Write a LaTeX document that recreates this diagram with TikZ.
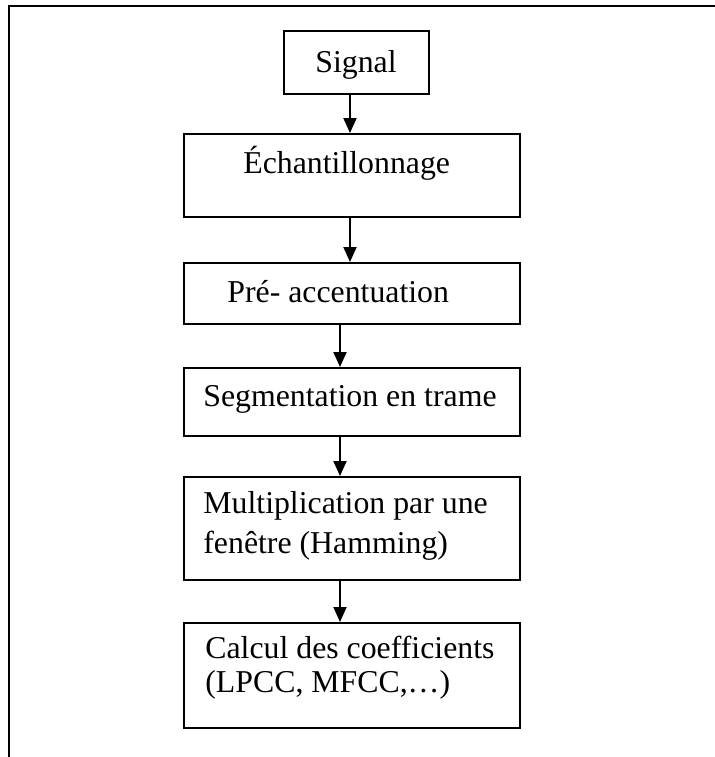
\documentclass[tikz,border=0pt]{standalone}
\usepackage{fontspec}
\setmainfont{Liberation Serif}
\usetikzlibrary{arrows.meta}
\begin{document}
\begin{tikzpicture}[x=0.5pt,y=-0.5pt,
  stage/.style={draw, line width=1pt, inner sep=0pt, anchor=north west},
  caption/.style={anchor=base west, inner sep=0pt, font=\fontsize{15.9}{19.5}\selectfont},
  flow/.style={line width=1pt, -{Triangle[width=6.5pt,length=7.5pt]}}]
  \useasboundingbox (0,0) rectangle (715,757);
  % open frame: top and left edges only
  \draw[line width=1pt] (715,6) -- (9,6) -- (9,757);

  % processing stages
  \node[stage, minimum width=72.5pt, minimum height=31.5pt] (sig) at (283,30) {};
  \node[stage, minimum width=168pt, minimum height=41.5pt] (ech) at (183,133) {};
  \node[stage, minimum width=168pt, minimum height=30.5pt] (pre) at (183,262) {};
  \node[stage, minimum width=168pt, minimum height=34pt] (seg) at (183,367) {};
  \node[stage, minimum width=168pt, minimum height=51.5pt] (mul) at (183,476) {};
  \node[stage, minimum width=168pt, minimum height=52.5pt] (cal) at (183,622) {};

  % stage labels
  \node[caption] (tsig) at (315,72) {Signal};
  \node[caption] (tech) at (243,173) {Échantillonnage};
  \node[caption] (tpre) at (227,302) {Pré- accentuation};
  \node[caption] (tseg) at (203,406) {Segmentation en trame};
  \node[caption] (tmulA) at (203,513) {Multiplication par une};
  \node[caption] (tmulB) at (203,553) {fenêtre (Hamming)};
  \node[caption] (tcalA) at (205,658) {Calcul des coefficients};
  \node[caption] (tcalB) at (205,692) {(LPCC, MFCC,…)};

  % arrow columns
  \coordinate (colA) at (350,0);
  \coordinate (colB) at (340,0);

  \draw[flow] (sig.south -| colA) -- (ech.north -| colA);
  \draw[flow] (ech.south -| colA) -- (pre.north -| colA);
  \draw[flow] (pre.south -| colB) -- (seg.north -| colB);
  \draw[flow] (seg.south -| colB) -- (mul.north -| colB);
  \draw[flow] (mul.south -| colB) -- (cal.north -| colB);
\end{tikzpicture}
\end{document}
